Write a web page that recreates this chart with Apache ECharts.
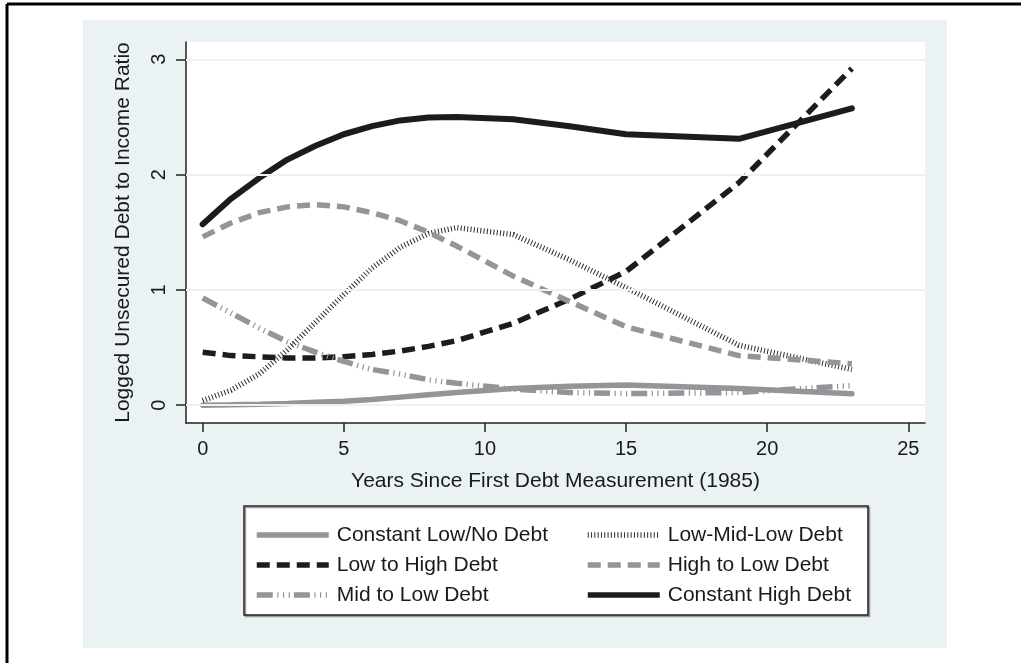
<!DOCTYPE html>
<html>
<head>
<meta charset="utf-8">
<script src="https://cdn.jsdelivr.net/npm/echarts@6/dist/echarts.min.js"></script>
<style>
  html, body { margin: 0; padding: 0; background: #fff; }
  #chart { width: 1021px; height: 663px; }
</style>
</head>
<body>
<div id="chart"></div>
<script>
// years since first debt measurement (1985)
const years = [0, 1, 2, 3, 4, 5, 6, 7, 8, 9, 11, 13, 15, 19, 23];
const constLow = [0.00, 0.003, 0.008, 0.015, 0.025, 0.035, 0.05, 0.07, 0.09, 0.11, 0.145, 0.165, 0.175, 0.145, 0.10];
const lowToHigh = [0.46, 0.43, 0.42, 0.41, 0.41, 0.42, 0.44, 0.47, 0.51, 0.56, 0.71, 0.92, 1.16, 1.93, 2.92];
const midToLow = [0.93, 0.80, 0.67, 0.55, 0.46, 0.38, 0.31, 0.27, 0.22, 0.19, 0.14, 0.11, 0.10, 0.11, 0.17];
const lowMidLow = [0.04, 0.13, 0.27, 0.48, 0.72, 0.96, 1.19, 1.37, 1.49, 1.54, 1.48, 1.26, 1.02, 0.52, 0.31];
const highToLow = [1.46, 1.58, 1.67, 1.72, 1.74, 1.72, 1.67, 1.60, 1.50, 1.38, 1.12, 0.90, 0.68, 0.43, 0.36];
const constHigh = [1.57, 1.79, 1.97, 2.13, 2.25, 2.35, 2.42, 2.47, 2.495, 2.50, 2.48, 2.42, 2.35, 2.31, 2.575];
const yTicks = [0, 1, 2, 3];

const BLACK = '#1c1c1c';
const GRAY = '#939598';
const FONT = 'Liberation Sans, Arial, sans-serif';

function pairs(vals) {
  return years.map((y, i) => [y, vals[i]]);
}

// plot frame (pixels) and where 0..25 / 0..3 sit inside it
const frame = { left: 186, top: 42, width: 739, height: 381 };
const inner = { left: 202.7, top: 59.3, width: 705.6, height: 345.9 };
const pxX = inner.width / 25, pxY = inner.height / 3;
const xMin = (frame.left - inner.left) / pxX;
const xMax = 25 + (frame.left + frame.width - inner.left - inner.width) / pxX;
const yMax = 3 + (inner.top - frame.top) / pxY;
const yMin = -(frame.top + frame.height - inner.top - inner.height) / pxY;

function lineSeries(name, vals, color, type, cap, width) {
  return {
    name: name,
    type: 'line',
    xAxisIndex: 0,
    yAxisIndex: 0,
    data: pairs(vals),
    symbol: 'none',
    z: 3,
    lineStyle: { color: color, width: width, type: type, cap: cap },
    itemStyle: { color: color },
    emphasis: { disabled: true }
  };
}

const legendCommon = {
  orient: 'vertical',
  padding: 0,
  itemWidth: 72, itemHeight: 14, itemGap: 6,
  lineStyle: { width: 5.5, cap: 'butt' },
  itemStyle: { opacity: 0 },
  textStyle: { fontSize: 21, color: '#1a1a1a', fontFamily: FONT, lineHeight: 24, padding: [0, 0, 0, 3] },
  selectedMode: false
};

const chart = echarts.init(document.getElementById('chart'), null, { renderer: 'canvas' });

const option = {
  animation: false,
  backgroundColor: '#ffffff',
  textStyle: { fontFamily: FONT },
  graphic: [
    { type: 'rect', z: -10, shape: { x: 83, y: 20, width: 864, height: 628 }, style: { fill: '#EAF2F3' } },
    { type: 'line', z: 10, shape: { x1: 7, y1: 4, x2: 1021, y2: 4 }, style: { stroke: '#000', lineWidth: 3 } },
    { type: 'line', z: 10, shape: { x1: 7, y1: 4, x2: 7, y2: 663 }, style: { stroke: '#000', lineWidth: 3 } },
    {
      type: 'rect', z: -5,
      shape: { x: 244, y: 506, width: 624, height: 109 },
      style: { fill: '#ffffff', stroke: '#222', lineWidth: 1.5, shadowColor: '#9a9a9a', shadowOffsetX: 1.5, shadowOffsetY: 1.5 }
    }
  ],
  grid: [
    { left: frame.left, top: frame.top, width: frame.width, height: frame.height, show: true, backgroundColor: '#ffffff', borderWidth: 0 },
    { left: inner.left, top: inner.top, width: inner.width, height: inner.height, show: false }
  ],
  xAxis: [
    {
      gridIndex: 0, type: 'value', min: xMin, max: xMax,
      axisLine: { show: true, onZero: false, lineStyle: { color: '#222', width: 1.5 } },
      axisTick: { show: false }, axisLabel: { show: false }, splitLine: { show: false },
      name: 'Years Since First Debt Measurement (1985)',
      nameLocation: 'middle', nameGap: 48,
      nameTextStyle: { fontSize: 21, color: '#1a1a1a', fontFamily: FONT }
    },
    {
      gridIndex: 1, type: 'value', min: 0, max: 25, interval: 5,
      offset: frame.top + frame.height - inner.top - inner.height,
      axisLine: { show: false, onZero: false },
      axisTick: { show: true, length: 9, lineStyle: { color: '#222', width: 1.5 } },
      axisLabel: { fontSize: 20, color: '#1a1a1a', margin: 16, fontFamily: FONT },
      splitLine: { show: false }
    }
  ],
  yAxis: [
    {
      gridIndex: 0, type: 'value', min: yMin, max: yMax,
      axisLine: { show: true, onZero: false, lineStyle: { color: '#222', width: 1.5 } },
      axisTick: { show: false }, axisLabel: { show: false }, splitLine: { show: false },
      name: 'Logged Unsecured Debt to Income Ratio',
      nameLocation: 'middle', nameGap: 52, nameRotate: 90,
      nameTextStyle: { fontSize: 21, color: '#1a1a1a', fontFamily: FONT }
    },
    {
      gridIndex: 1, type: 'value', min: 0, max: 3, interval: 1,
      offset: inner.left - frame.left,
      axisLine: { show: false, onZero: false },
      axisTick: { show: true, length: 10, lineStyle: { color: '#222', width: 1.5 } },
      axisLabel: { fontSize: 20, color: '#1a1a1a', rotate: 90, margin: 17, fontFamily: FONT },
      splitLine: { show: false }
    }
  ],
  legend: [
    Object.assign({ left: 254, top: 523, data: ['Constant Low/No Debt', 'Low to High Debt', 'Mid to Low Debt'] }, legendCommon),
    Object.assign({ left: 585, top: 523, data: ['Low-Mid-Low Debt', 'High to Low Debt', 'Constant High Debt'] }, legendCommon)
  ],
  series: [
    {
      // gridlines of the frame
      name: 'grid',
      type: 'line', xAxisIndex: 0, yAxisIndex: 0, data: [], z: 1, silent: true,
      markLine: {
        silent: true, symbol: 'none', label: { show: false }, animation: false,
        lineStyle: { color: '#EAF2F3', width: 2, type: 'solid' },
        data: yTicks.map(v => ({ yAxis: v }))
      }
    },
    lineSeries('Constant Low/No Debt', constLow, GRAY, 'solid', 'round', 5.5),
    lineSeries('Low to High Debt', lowToHigh, BLACK, [13, 7], 'butt', 5.5),
    lineSeries('Mid to Low Debt', midToLow, GRAY, [16, 4.5, 1.2, 4.5, 1.2, 4.5, 1.2, 4], 'butt', 5.5),
    lineSeries('Low-Mid-Low Debt', lowMidLow, '#2b2b2b', [1, 2.3], 'butt', 5.5),
    lineSeries('High to Low Debt', highToLow, GRAY, [13, 7], 'butt', 5.5),
    lineSeries('Constant High Debt', constHigh, BLACK, 'solid', 'round', 6)
  ]
};

chart.setOption(option);
</script>
</body>
</html>
